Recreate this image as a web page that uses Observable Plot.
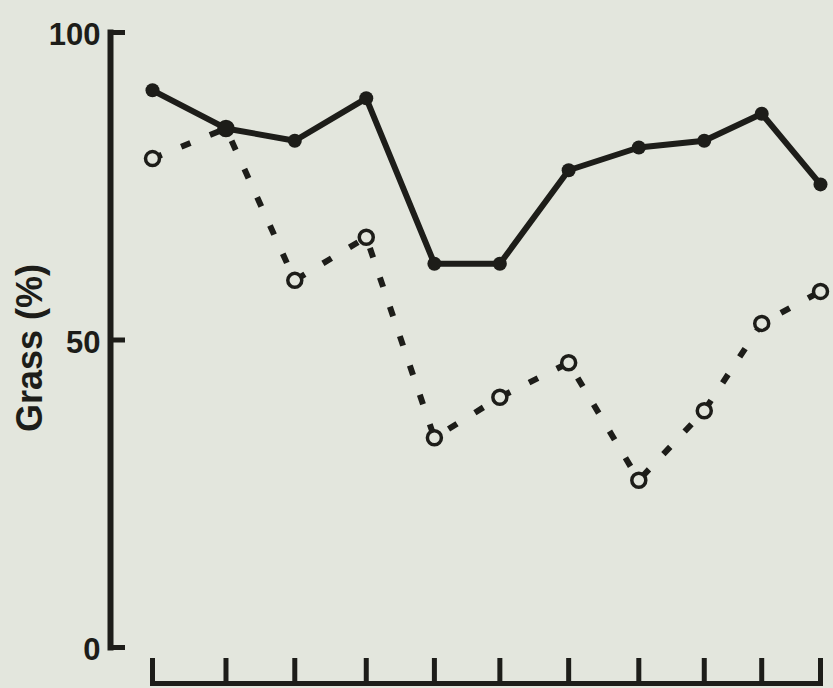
<!DOCTYPE html>
<html><head><meta charset="utf-8">
<script src="https://cdn.jsdelivr.net/npm/d3@7"></script>
<script src="https://cdn.jsdelivr.net/npm/@observablehq/plot@0.6"></script>
<style>html,body{margin:0;padding:0;background:#e3e6dd;}</style>
</head><body><div id="chart"></div>
<script>
// sampling positions (estimated, relative units 0..100)
const samples = [0, 11, 21.3, 32, 42.2, 52, 62.3, 72.8, 82.6, 91.2, 100];
// solid series (filled dots)
const solidSeries = [90.6, 84.4, 82.4, 89.3, 62.4, 62.4, 77.6, 81.3, 82.4, 86.8, 75.3];
// dashed series (open circles)
const dashedSeries = [79.5, 84.4, 59.7, 66.7, 34.1, 40.7, 46.3, 27.2, 38.5, 52.7, 57.9];
const yTicks = [0, 50, 100];
const yLabel = "Grass (%)";

const bg = "#e3e6dd";
const ink = "#1d1d19";

const solid = samples.map((x, i) => ({x, y: solidSeries[i]}));
const dashed = samples.map((x, i) => ({x, y: dashedSeries[i]}));

const W = 833, H = 688, mL = 110, mR = 7, mT = 32, mB = 5;
const frameW = W - mL - mR, frameH = H - mT - mB;

const chart = Plot.plot({
  width: W,
  height: H,
  marginLeft: mL,
  marginRight: mR,
  marginTop: mT,
  marginBottom: mB,
  style: {background: bg, fontFamily: "'Liberation Sans', Arial, sans-serif", color: ink},
  x: {domain: [0, 100], insetLeft: 42, insetRight: 6, axis: null},
  y: {domain: [0, 100], insetBottom: 36},
  marks: [
    // y axis line
    Plot.frame({anchor: "left", insetBottom: 36, stroke: ink, strokeWidth: 6}),
    // y ticks pointing inward
    Plot.tickY(yTicks, {y: d => d, insetRight: frameW - 15, stroke: ink, strokeWidth: 5}),
    // y tick labels
    Plot.axisY({ticks: yTicks, tickSize: 0, tickPadding: 10, dy: 3, fontSize: 31, fontWeight: "bold", fill: ink,
      label: null, tickFormat: d => String(d)}),
    // x axis line
    Plot.frame({anchor: "bottom", insetLeft: 42, insetRight: 6, stroke: ink, strokeWidth: 5}),
    // x ticks pointing up
    Plot.tickX(samples, {x: d => d, insetTop: frameH - 25, stroke: ink, strokeWidth: 5}),
    // y label
    Plot.text([yLabel], {frameAnchor: "left", textAnchor: "middle", rotate: -90, dx: -80, dy: -10,
      fontSize: 36, fontWeight: "bold", fill: ink}),
    Plot.line(dashed, {x: "x", y: "y", stroke: ink, strokeWidth: 6, strokeDasharray: "10,21", strokeLinecap: "butt"}),
    Plot.dot(dashed, {x: "x", y: "y", r: 7, stroke: ink, strokeWidth: 3.5, fill: bg}),
    Plot.line(solid, {x: "x", y: "y", stroke: ink, strokeWidth: 6, strokeLinejoin: "round"}),
    Plot.dot(solid, {x: "x", y: "y", r: 7, fill: ink, stroke: "none"})
  ]
});
document.getElementById("chart").appendChild(chart);
</script>
</body></html>
